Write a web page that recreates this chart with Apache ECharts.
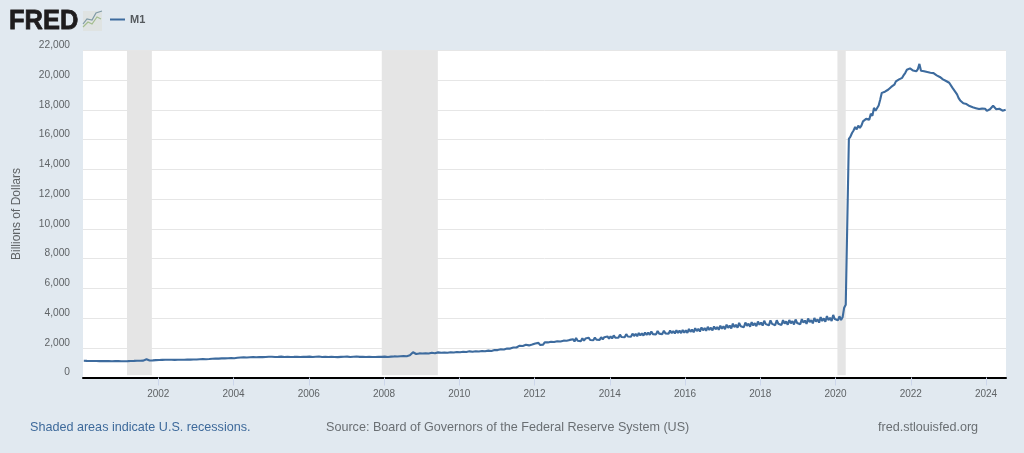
<!DOCTYPE html>
<html>
<head>
<meta charset="utf-8">
<style>
  html, body { margin: 0; padding: 0; background: #e1e9f0; }
  #chart { width: 1024px; height: 453px; }
</style>
<script src="https://cdn.jsdelivr.net/npm/echarts@6/dist/echarts.min.js"></script>
</head>
<body>
<div id="chart"></div>
<script>
var startYear = 2000
var seriesName = 'M1'
var xTicks = [2002, 2004, 2006, 2008, 2010, 2012, 2014, 2016, 2018, 2020, 2022, 2024]
// start / end of each shaded recession, in years
var recessions = [[2001.17, 2001.83], [2007.94, 2009.43], [2020.05, 2020.27]]
// two values per month, one row per year
var m1Values = [
  1125, 1110, 1118, 1102, 1112, 1098, 1108, 1094, 1110, 1092, 1104, 1090, 1106, 1088, 1100, 1086, 1102, 1084, 1098, 1086, 1102, 1088, 1106, 1092,
  1094, 1082, 1098, 1086, 1104, 1092, 1112, 1098, 1116, 1102, 1122, 1106, 1130, 1112, 1136, 1120, 1230, 1150, 1145, 1128, 1155, 1138, 1170, 1150,
  1180, 1160, 1185, 1165, 1190, 1170, 1192, 1166, 1195, 1172, 1188, 1164, 1194, 1170, 1190, 1168, 1198, 1174, 1204, 1180, 1200, 1176, 1210, 1186,
  1214, 1190, 1226, 1200, 1238, 1212, 1232, 1208, 1246, 1220, 1262, 1236, 1278, 1250, 1270, 1244, 1284, 1256, 1290, 1262, 1296, 1270, 1304, 1276,
  1300, 1272, 1326, 1296, 1342, 1310, 1356, 1326, 1346, 1316, 1362, 1330, 1368, 1334, 1362, 1330, 1382, 1348, 1368, 1334, 1378, 1344, 1392, 1358,
  1398, 1362, 1384, 1350, 1388, 1354, 1404, 1366, 1384, 1350, 1392, 1358, 1380, 1346, 1388, 1354, 1398, 1362, 1384, 1350, 1392, 1358, 1388, 1352,
  1404, 1366, 1380, 1344, 1398, 1362, 1408, 1372, 1384, 1348, 1398, 1362, 1380, 1344, 1394, 1358, 1384, 1346, 1368, 1334, 1388, 1352, 1394, 1356,
  1404, 1366, 1380, 1342, 1398, 1362, 1414, 1376, 1388, 1352, 1398, 1362, 1384, 1346, 1398, 1362, 1384, 1346, 1378, 1342, 1392, 1356, 1388, 1352,
  1404, 1366, 1384, 1346, 1404, 1366, 1418, 1382, 1412, 1378, 1428, 1392, 1438, 1402, 1426, 1392, 1490, 1450, 1700, 1600, 1580, 1540, 1620, 1570,
  1610, 1560, 1620, 1580, 1610, 1570, 1660, 1610, 1630, 1590, 1690, 1640, 1670, 1630, 1685, 1640, 1670, 1630, 1700, 1650, 1680, 1640, 1710, 1665,
  1700, 1660, 1730, 1685, 1720, 1675, 1760, 1710, 1730, 1690, 1765, 1720, 1750, 1705, 1785, 1735, 1770, 1725, 1810, 1760, 1780, 1735, 1850, 1800,
  1845, 1790, 1895, 1840, 1885, 1830, 1955, 1900, 1945, 1890, 2015, 1955, 2020, 1960, 2140, 2070, 2120, 2050, 2200, 2120, 2160, 2090, 2220, 2140,
  2290, 2170, 2330, 2190, 2320, 2210, 2370, 2240, 2360, 2240, 2400, 2270, 2390, 2280, 2440, 2310, 2420, 2300, 2480, 2350, 2470, 2350, 2530, 2400,
  2580, 2420, 2660, 2470, 2590, 2440, 2640, 2480, 2620, 2490, 2680, 2520, 2640, 2510, 2690, 2540, 2660, 2530, 2710, 2560, 2710, 2580, 2760, 2610,
  2770, 2630, 2830, 2680, 2810, 2670, 2880, 2720, 2850, 2710, 2920, 2760, 2890, 2740, 2950, 2790, 2930, 2780, 2990, 2830, 2970, 2820, 3030, 2870,
  3020, 2870, 3090, 2920, 3050, 2900, 3130, 2950, 3080, 2920, 3150, 2970, 3100, 2940, 3160, 2980, 3120, 2960, 3180, 3000, 3150, 2990, 3190, 3020,
  3170, 3000, 3270, 3070, 3220, 3040, 3320, 3120, 3270, 3090, 3370, 3170, 3320, 3140, 3410, 3200, 3350, 3170, 3440, 3240, 3400, 3210, 3490, 3280,
  3450, 3250, 3560, 3340, 3500, 3300, 3620, 3390, 3550, 3350, 3670, 3450, 3580, 3380, 3700, 3470, 3620, 3420, 3720, 3500, 3660, 3450, 3770, 3550,
  3700, 3490, 3820, 3590, 3720, 3510, 3840, 3610, 3730, 3520, 3850, 3620, 3750, 3530, 3860, 3620, 3770, 3550, 3870, 3640, 3790, 3570, 3900, 3670,
  3800, 3580, 3930, 3690, 3830, 3610, 3970, 3720, 3860, 3640, 4000, 3760, 3910, 3690, 4060, 3800, 3980, 3750, 4130, 3860, 4020, 3800, 4210, 3930,
  4000, 3850, 4120, 3870, 4050, 4700, 4900, 5000, 16060, 16200, 16450, 16620, 16850, 16700, 16950, 16800, 16950, 17230, 17100, 17400, 17470, 17350, 17750, 17600,
  18140, 17950, 18080, 18300, 18700, 19150, 19050, 19230, 19150, 19360, 19300, 19550, 19500, 19700, 19920, 19800, 20060, 20000, 20160, 20350, 20500, 20700, 20600, 20800,
  20850, 20650, 20530, 20600, 20750, 21100, 20640, 20700, 20600, 20620, 20550, 20580, 20500, 20540, 20480, 20400, 20330, 20380, 20220, 20150, 20060, 20030, 19950, 19880,
  19830, 19700, 19500, 19350, 19250, 19050, 18800, 18640, 18600, 18450, 18520, 18400, 18380, 18260, 18300, 18180, 18220, 18120, 18010, 18060, 18170, 18090, 18030, 18080,
  17940, 17900, 18050, 18120, 18280, 18150, 18050, 17950, 18080, 18000, 17950, 18060, 18020
]

var m1Points = []
for (var i = 0; i < m1Values.length; i++) {
  m1Points.push([startYear + (i + 0.5) / 24, m1Values[i]])
}

var textColor = '#5f6366'
var lineColor = '#3d6b9e'
var fontName = '"Liberation Sans", Arial, sans-serif'

var option = {
  backgroundColor: '#e1e9f0',
  animation: false,
  textStyle: { fontFamily: fontName },
  grid: {
    show: true,
    left: 83,
    right: 18,
    top: 50.5,
    bottom: 75.5,
    backgroundColor: '#ffffff',
    borderWidth: 0
  },
  xAxis: {
    type: 'value',
    min: 2000,
    max: 2024.53,
    interval: 2,
    splitLine: { show: false },
    axisLine: { onZero: false, lineStyle: { color: '#000000', width: 2 } },
    axisTick: { show: true, length: 8, customValues: xTicks, lineStyle: { color: '#ccd6eb' } },
    axisLabel: {
      customValues: xTicks,
      color: textColor,
      fontSize: 10,
      margin: 12,
      formatter: function (v) { return String(v) }
    }
  },
  yAxis: {
    type: 'value',
    min: 0,
    max: 22000,
    interval: 2000,
    name: 'Billions of Dollars',
    nameLocation: 'middle',
    nameGap: 60,
    nameTextStyle: { color: textColor, fontSize: 12 },
    axisLine: { show: false },
    axisTick: { show: false },
    splitLine: { lineStyle: { color: '#e6e6e6', width: 1 } },
    axisLabel: {
      color: textColor,
      fontSize: 10.2,
      margin: 13,
      verticalAlign: 'bottom',
      formatter: function (v) { return v.toLocaleString('en-US') }
    }
  },
  series: [
    {
      name: seriesName,
      type: 'line',
      data: m1Points,
      showSymbol: false,
      smooth: false,
      lineStyle: { color: lineColor, width: 2.1 },
      markArea: {
        silent: true,
        itemStyle: { color: '#e5e5e5' },
        data: recessions.map(function (r) {
          return [{ coord: [r[0], 150] }, { coord: [r[1], 22000] }]
        })
      }
    }
  ],
  graphic: [
    // FRED logo
    { type: 'text', x: 9, y: 21, scaleX: 0.91, style: { text: 'FRED', fontFamily: fontName, fontSize: 28, fontWeight: 900, verticalAlign: 'middle', fill: '#1e1c1d', stroke: '#1e1c1d', lineWidth: 0.8 } },
    { type: 'rect', shape: { x: 83, y: 11, width: 19, height: 20 }, style: { fill: '#dfe3e2' } },
    { type: 'polyline', shape: { points: [[83, 27], [88, 22], [92, 24], [97, 17], [101, 19]] }, style: { stroke: '#a3bd8e', lineWidth: 1.2, fill: null } },
    { type: 'polyline', shape: { points: [[83, 24], [87, 19], [92, 20], [96, 13], [102, 11]] }, style: { stroke: '#7f9aa6', lineWidth: 1.2, fill: null } },
    // legend
    { type: 'line', shape: { x1: 110, y1: 19.5, x2: 125, y2: 19.5 }, style: { stroke: lineColor, lineWidth: 2 } },
    { type: 'text', left: 130, top: 14.5, style: { text: seriesName, fontFamily: fontName, fontSize: 11, fontWeight: 'bold', fill: '#555a5e' } },
    // footer
    { type: 'text', left: 30, top: 421, style: { text: 'Shaded areas indicate U.S. recessions.', fontFamily: fontName, fontSize: 12.6, fill: '#3e6a9b' } },
    { type: 'text', left: 326, top: 421, style: { text: 'Source: Board of Governors of the Federal Reserve System (US)', fontFamily: fontName, fontSize: 12.6, fill: '#6a6f73' } },
    { type: 'text', left: 878, top: 421, style: { text: 'fred.stlouisfed.org', fontFamily: fontName, fontSize: 12.6, fill: '#6a6f73' } }
  ]
}

var myChart = echarts.init(document.getElementById('chart'), null, { renderer: 'canvas' })
myChart.setOption(option)
</script>
</body>
</html>
